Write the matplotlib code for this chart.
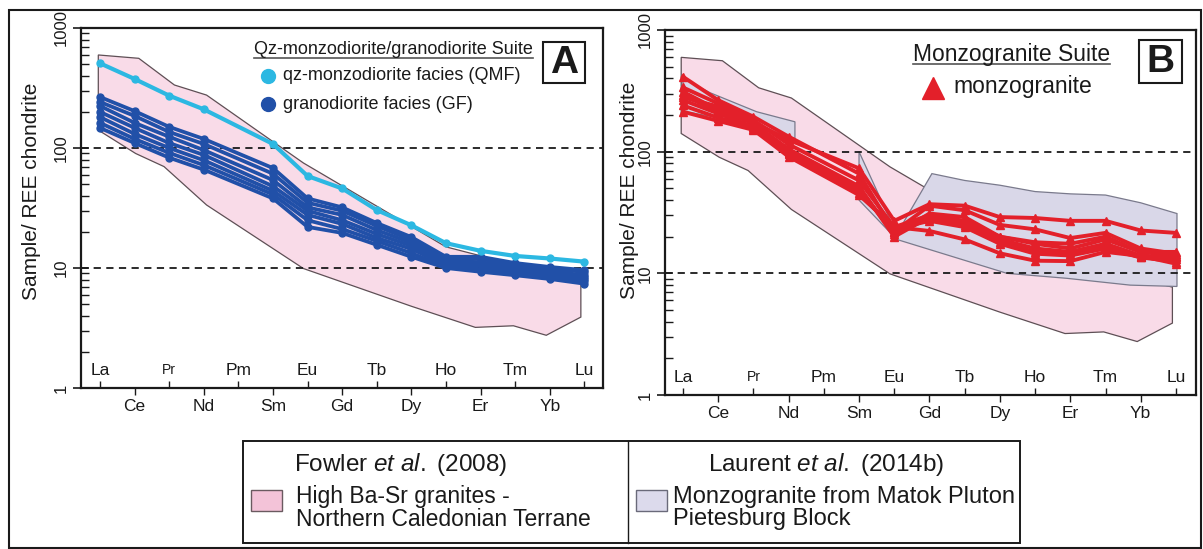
import numpy as np
import matplotlib
matplotlib.use("Agg")
import matplotlib.pyplot as plt
from matplotlib.patches import Rectangle
from matplotlib.lines import Line2D
from matplotlib.ticker import NullFormatter, LogLocator

plt.rcParams['font.family'] = ['Liberation Sans', 'DejaVu Sans']
plt.rcParams['mathtext.fontset'] = 'custom'
plt.rcParams['mathtext.rm'] = 'Liberation Sans'
plt.rcParams['mathtext.it'] = 'Liberation Sans:italic'

W, H = 1203, 549

# REE on the x axis; Pm is never analysed, so profiles skip position 4
elements = ['La', 'Ce', 'Pr', 'Nd', 'Pm', 'Sm', 'Eu', 'Gd', 'Tb', 'Dy', 'Ho', 'Er', 'Tm', 'Yb', 'Lu']
pos = [0, 1, 2, 3, 5, 6, 7, 8, 9, 10, 11, 12, 13, 14]

# panel A: qz-monzodiorite facies
qmf = [508, 376, 273, 210, 108, 58.4, 46, 30.4, 22.7, 16.1, 13.9, 12.6, 12.0, 11.3]

# panel A: granodiorite facies
gf = [
    [266, 203, 150, 119, 68, 38, 32, 23.7, 18.1, 12.4, 12.4, 11.0, 10.2, 9.6],
    [242, 185, 136, 108, 61, 35, 30, 22.4, 17.1, 11.9, 11.9, 10.6, 9.8, 9.3],
    [224, 162, 124, 96, 54, 32, 27.7, 20.7, 16.2, 11.4, 11.2, 10.2, 9.4, 8.7],
    [200, 147, 110, 87.5, 48, 30, 25, 19.2, 15.3, 11.0, 10.8, 9.8, 9.1, 8.4],
    [181, 131, 100, 79, 44, 27.7, 23.3, 17.8, 14.4, 10.6, 10.4, 9.4, 8.7, 8.1],
    [162, 119, 91, 72, 41, 25, 21.1, 16.8, 13.3, 10.2, 9.8, 9.1, 8.4, 7.8],
    [147, 110, 83, 66, 38, 22, 19.6, 15.6, 12.4, 10.0, 9.3, 8.7, 8.1, 7.4],
]

# panel B: monzogranite
monzo = [
    [280, 235, 175, 125, 73, 27, 37, 36, 29, 28.5, 27, 27, 22.5, 21.5],
    [413, 265, 194, 133, 66, 22, 36, 33, 25, 23, 19.5, 21.5, 16, 14.5],
    [337, 249, 182, 115, 58, 24, 30, 27, 20, 17.5, 16, 19, 15, 15],
    [311, 220, 171, 105, 52, 20, 29, 26, 19, 16, 15, 17.5, 14, 13.5],
    [265, 206, 160, 98, 48, 22, 28, 25, 18, 15, 14.5, 16.5, 13.5, 13],
    [290, 215, 155, 95, 46, 23, 27, 24, 17.5, 14.5, 14, 16, 13.5, 12.5],
    [213, 179, 151, 91, 44, 24, 22.3, 19, 14.6, 12.7, 12.6, 15, 13.9, 12],
    [240, 190, 160, 100, 50, 21, 31, 29, 20, 18, 17.5, 20, 15, 14],
]

# Fowler et al. (2008) high Ba-Sr granite field (upper edge then lower edge)
fowler_x = [-0.05, 1.12, 2.15, 3.08, 5.88, 10.0, 13.9,
            13.9, 12.9, 11.95, 10.85, 9.0, 5.88, 3.08, 1.85, 1.03, -0.05]
fowler_v = [596, 559, 335, 276, 75, 15.0, 7.7,
            3.9, 2.75, 3.3, 3.2, 4.8, 9.9, 33.5, 70, 90, 141]

# Laurent et al. (2014b) Matok Pluton field, split at Pm
matok_lree_x = [0, 0.77, 2.09, 3.18, 3.18, 2.0, 1.0, 0]
matok_lree_v = [400, 305, 213, 176, 128, 165, 190, 215]
matok_hree_x = [5.0, 6.07, 7.07, 8, 9, 10, 11, 12, 13, 14.03,
                14.03, 12.7, 10.9, 9.2, 6.07, 5.0]
matok_hree_v = [100, 21, 66, 58, 53, 47, 45, 44, 38, 31,
                7.8, 8.0, 9.1, 10.0, 19, 40]

pink = '#f9dbe8'
lav = '#d9d7e8'
ink = '#1a1a1a'


def fx(px):
    return px / W


def fy(py):
    return 1 - py / H


def style_axes(ax, xlim, ylab_x, ylab_y):
    ax.set_yscale('log')
    ax.set_ylim(1, 1000)
    ax.set_xlim(*xlim)
    for s in ax.spines.values():
        s.set_linewidth(1.6)
        s.set_color(ink)
    # odd elements below the axis, even ones written inside it
    odd = list(range(1, 15, 2))
    even = list(range(0, 15, 2))
    ax.set_xticks(odd, [elements[i] for i in odd])
    ax.set_xticks(even, [elements[i] for i in even], minor=True)
    ax.tick_params(axis='x', which='major', direction='out', length=5, width=1,
                   pad=3, labelsize=12.5, colors=ink)
    ax.tick_params(axis='x', which='minor', direction='in', length=5, width=1,
                   pad=-18, labelsize=12.5, colors=ink)
    for t in ax.get_xticklabels(minor=True):
        if t.get_text() == 'Pr':
            t.set_fontsize(10)
    ax.set_yticks([1, 10, 100, 1000], ['1', '10', '100', '1000'], rotation=90, va='center')
    ax.yaxis.set_minor_locator(LogLocator(base=10, subs=np.arange(2, 10)))
    ax.yaxis.set_minor_formatter(NullFormatter())
    ax.tick_params(axis='y', which='major', direction='inout', length=12, width=1.2,
                   pad=3, labelsize=12, colors=ink)
    ax.tick_params(axis='y', which='minor', direction='in', length=6, width=1, colors=ink)
    ax.set_ylabel('Sample/ REE chondrite', fontsize=15, color=ink)
    ax.yaxis.set_label_coords(ylab_x, ylab_y)
    for lev in (10, 100):
        ax.axhline(lev, color=ink, lw=1.3, ls=(0, (4, 3)), zorder=2)


fig = plt.figure(figsize=(W / 100, H / 100), dpi=100)

axA = fig.add_axes([fx(81), fy(388), fx(603) - fx(81), fy(28) - fy(388)])
axB = fig.add_axes([fx(665), fy(395), fx(1196) - fx(665), fy(30) - fy(395)])

# ---- panel A
axA.fill(fowler_x, fowler_v, facecolor=pink, edgecolor='#5e4f55', lw=0.9, zorder=1)
for row in gf:
    axA.plot(pos, row, color='#2150a8', lw=2.7, marker='o', ms=5, zorder=3)
axA.plot(pos, qmf, color='#2cb8e2', lw=3.0, marker='o', ms=5, zorder=4)
style_axes(axA, (-0.55, 14.54), -0.0765, 0.545)

# ---- panel B
axB.fill(fowler_x, fowler_v, facecolor=pink, edgecolor='#5e4f55', lw=0.9, zorder=1)
axB.fill(matok_lree_x, matok_lree_v, facecolor=lav, edgecolor='#7a7a8c', lw=0.9, zorder=1.5)
axB.fill(matok_hree_x, matok_hree_v, facecolor=lav, edgecolor='#7a7a8c', lw=0.9, zorder=1.5)
for row in monzo:
    axB.plot(pos, row, color='#e3202a', lw=2.8, marker='^', ms=5.5, zorder=3)
style_axes(axB, (-0.51, 14.57), -0.049, 0.562)


def ftext(px, py, s, **kw):
    kw.setdefault('color', ink)
    return fig.text(fx(px), fy(py), s, **kw)


def underline(t, py, color='#555555'):
    fig.canvas.draw()
    bb = t.get_window_extent()
    fig.add_artist(Line2D([bb.x0 / W, bb.x1 / W], [fy(py), fy(py)],
                          transform=fig.transFigure, color=color, lw=1.2))


def frame(x0, y0, x1, y1, lw=1.5):
    fig.add_artist(Rectangle((fx(x0), fy(y1)), fx(x1) - fx(x0), fy(y0) - fy(y1),
                             transform=fig.transFigure, fill=False, ec=ink, lw=lw))


# panel A key
tA = ftext(254, 49, 'Qz-monzodiorite/granodiorite Suite', fontsize=13, va='center')
underline(tA, 58)
fig.add_artist(Line2D([fx(268)], [fy(76)], transform=fig.transFigure, marker='o',
                      ms=10, color='#2cb8e2', ls='none'))
ftext(283, 76, 'qz-monzodiorite facies (QMF)', fontsize=13, va='center')
fig.add_artist(Line2D([fx(268)], [fy(104)], transform=fig.transFigure, marker='o',
                      ms=10, color='#2150a8', ls='none'))
ftext(283, 104, 'granodiorite facies (GF)', fontsize=13, va='center')
frame(543, 42, 585, 83)
ftext(564, 63, 'A', fontsize=28, fontweight='bold', ha='center', va='center')

# panel B key
tB = ftext(913, 54, 'Monzogranite Suite', fontsize=16.5, va='center')
underline(tB, 64)
fig.add_artist(Line2D([fx(933)], [fy(88)], transform=fig.transFigure, marker='^',
                      ms=16, color='#e3202a', ls='none'))
ftext(953, 87, 'monzogranite', fontsize=16.5, va='center')
frame(1139, 40, 1182, 83)
ftext(1160, 62, 'B', fontsize=28, fontweight='bold', ha='center', va='center')

# reference fields key
frame(243, 441, 1020, 543, lw=1.4)
fig.add_artist(Line2D([fx(628), fx(628)], [fy(441), fy(543)], transform=fig.transFigure,
                      color=ink, lw=1.0))
ftext(401, 465, r'Fowler $\mathit{et\ al.}$ (2008)', fontsize=17.5, ha='center', va='center')
fig.add_artist(Rectangle((fx(251), fy(511)), fx(282) - fx(251), fy(490) - fy(511),
                         transform=fig.transFigure, fc='#f3c3d8', ec='#6a5a60', lw=1))
ftext(296, 508, 'High Ba-Sr granites -\nNorthern Caledonian Terrane', fontsize=16.5,
      va='center', linespacing=1.05)
ftext(826, 465, r'Laurent $\mathit{et\ al.}$ (2014b)', fontsize=17.5, ha='center', va='center')
fig.add_artist(Rectangle((fx(636), fy(511)), fx(667) - fx(636), fy(490) - fy(511),
                         transform=fig.transFigure, fc='#dcdaec', ec='#6a6a7a', lw=1))
ftext(673, 508, 'Monzogranite from Matok Pluton\nPietesburg Block', fontsize=17,
      va='center', linespacing=1.0)

# outer border
frame(9, 10, 1201, 548, lw=1.5)

fig.savefig('out.png', dpi=100)
